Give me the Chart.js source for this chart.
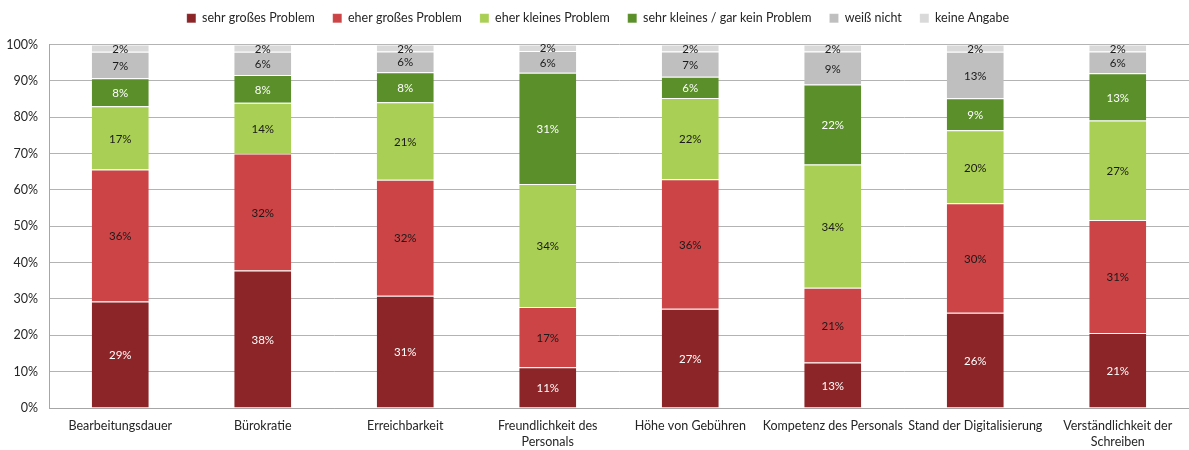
<!DOCTYPE html>
<html>
<head>
<meta charset="utf-8">
<script src="https://cdn.jsdelivr.net/npm/chart.js@4/dist/chart.umd.min.js"></script>
<style>
  html, body { margin: 0; padding: 0; background: #fff; }
  #wrap { width: 1189px; height: 450px; }
</style>
</head>
<body>
<div id="wrap"><canvas id="chart" width="1189" height="450"></canvas></div>
<script>
// categories (two-line labels split like the original)
var categories = [
    "Bearbeitungsdauer",
    "Bürokratie",
    "Erreichbarkeit",
    ["Freundlichkeit des", "Personals"],
    "Höhe von Gebühren",
    "Kompetenz des Personals",
    "Stand der Digitalisierung",
    ["Verständlichkeit der", "Schreiben"]
];
var seriesNames = ["sehr großes Problem", "eher großes Problem", "eher kleines Problem",
    "sehr kleines / gar kein Problem", "weiß nicht", "keine Angabe"];

// shares in percent
var sehrGross   = [29.3, 37.8, 30.9, 11.2, 27.3, 12.5, 26.2, 20.6];
var eherGross   = [36.3, 32.2, 31.9, 16.6, 35.6, 20.6, 30.1, 31.1];
var eherKlein   = [17.4, 14.0, 21.3, 33.8, 22.4, 33.9, 20.1, 27.4];
var sehrKlein   = [7.7, 7.6, 8.3, 30.6, 5.8, 22.0, 8.8, 13.0];
var weissNicht  = [7.3, 6.4, 5.7, 6.0, 7.0, 9.1, 12.8, 6.0];
var keineAngabe = [2.0, 2.0, 1.9, 1.8, 1.9, 1.9, 2.0, 1.9];

var yTicks = [0, 10, 20, 30, 40, 50, 60, 70, 80, 90, 100];

var colors = ["#8B2527", "#CC4446", "#AACF55", "#5A8F29", "#BFBFBF", "#D9D9D9"];
var labelColors = ["#ffffff", "#1a1a1a", "#1a1a1a", "#ffffff", "#1a1a1a", "#1a1a1a"];
var allSeries = [sehrGross, eherGross, eherKlein, sehrKlein, weissNicht, keineAngabe];

var FONT = "Lato, 'Open Sans', sans-serif";

// draws the rounded percentage in the middle of each segment
var segmentLabels = {
    id: 'segmentLabels',
    afterDatasetsDraw: function (chart) {
        var ctx = chart.ctx;
        ctx.save();
        ctx.font = "11.5px " + FONT;
        ctx.textAlign = "center";
        ctx.textBaseline = "middle";
        chart.data.datasets.forEach(function (ds, i) {
            var meta = chart.getDatasetMeta(i);
            meta.data.forEach(function (bar, j) {
                var mid = (bar.y + bar.base) / 2;
                ctx.fillStyle = labelColors[i];
                ctx.fillText(Math.round(ds.data[j]) + "%", bar.x, mid + 1);
            });
        });
        ctx.restore();
    }
};

// extra room between legend and plot area
var legendGap = {
    id: 'legendGap',
    beforeInit: function (chart) {
        var origFit = chart.legend.fit;
        chart.legend.fit = function () {
            origFit.bind(chart.legend)();
            this.height += 10;
        };
    }
};

function buildDatasets() {
    return allSeries.map(function (values, i) {
        return {
            label: seriesNames[i],
            data: values,
            backgroundColor: colors[i],
            borderColor: "rgba(255,255,255,0.5)",
            borderWidth: { top: 1, bottom: 0, left: 0, right: 0 },
            borderSkipped: false,
            barPercentage: 0.4,
            categoryPercentage: 1.0
        };
    });
}

var chart = new Chart(document.getElementById("chart").getContext("2d"), {
    type: "bar",
    data: {
        labels: categories,
        datasets: buildDatasets()
    },
    options: {
        responsive: false,
        animation: false,
        layout: { padding: { left: 7, right: 0, top: -6, bottom: 0 } },
        plugins: {
            legend: {
                position: "top",
                labels: {
                    boxWidth: 9,
                    boxHeight: 9,
                    padding: 18,
                    color: "#262626",
                    font: { family: FONT, size: 12.5 }
                }
            },
            tooltip: { enabled: false }
        },
        scales: {
            x: {
                stacked: true,
                afterFit: function (scale) { scale.height = 42; },
                grid: { display: false, drawTicks: false },
                border: { color: "#A6A6A6" },
                ticks: {
                    color: "#262626",
                    font: { family: FONT, size: 12.5, lineHeight: 1.28 },
                    maxRotation: 0,
                    autoSkip: false,
                    padding: 10
                }
            },
            y: {
                stacked: true,
                min: 0,
                max: 100,
                afterFit: function (scale) { scale.width = 42; },
                afterBuildTicks: function (axis) {
                    axis.ticks = yTicks.map(function (v) { return { value: v }; });
                },
                grid: { color: "#B3B3B3", drawTicks: false },
                border: { color: "#A6A6A6" },
                ticks: {
                    color: "#262626",
                    font: { family: FONT, size: 12.5 },
                    padding: 11,
                    callback: function (v) { return v + "%"; }
                }
            }
        }
    },
    plugins: [segmentLabels, legendGap]
});
</script>
</body>
</html>
